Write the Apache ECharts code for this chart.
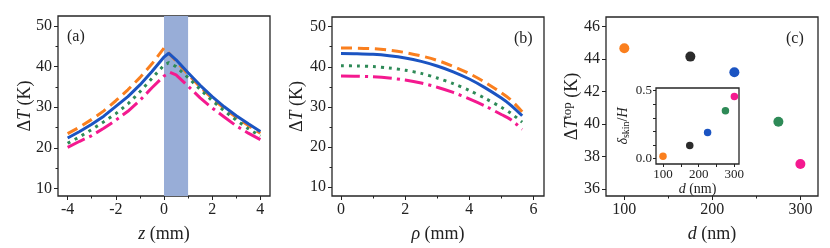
<!DOCTYPE html>
<html>
<head>
<meta charset="utf-8">
<script src="https://cdn.jsdelivr.net/npm/echarts@6/dist/echarts.min.js"></script>
<style>html,body{margin:0;padding:0;background:#fff}#c{width:830px;height:248px}</style>
</head>
<body>
<div id="c"></div>
<script>
// ---------- Panel (a): ΔT vs z ----------
const zOrange = [-4,-3.5,-3,-2.5,-2,-1.5,-1,-0.5,0,0.5,1,1.5,2,2.5,3,3.5,4];
const aOrange = [23.5,25.1,27.0,29.1,31.6,34.3,37.3,40.7,44.6,41.4,38.1,35.0,32.2,29.7,27.5,25.5,23.6];
const zBlue = [-4,-3.5,-3,-2.5,-2,-1.5,-1,-0.5,0,0.2,0.5,1,1.5,2,2.5,3,3.5,4];
const aBlue = [22.4,24.0,25.8,27.8,30.2,32.6,35.5,38.8,42.4,43.3,41.7,38.5,35.4,32.6,30.1,27.9,25.9,24.0];
const zGreen = [-4,-3.5,-3,-2.5,-2,-1.5,-1,-0.5,0,0.2,0.5,1,1.5,2,2.5,3,3.5,4];
const aGreen = [21.1,22.7,24.5,26.4,28.4,30.8,33.8,37.1,40.4,41.0,40.0,37.3,34.4,31.6,29.1,26.8,24.7,22.9];
const zPink = [-4,-3.5,-3,-2.5,-2,-1.5,-1,-0.5,0,0.25,0.5,1,1.5,2,2.5,3,3.5,4];
const aPink = [20.1,21.6,23.0,24.8,26.8,29.0,31.7,34.8,37.7,38.6,38.0,35.2,32.3,29.8,27.6,25.4,23.6,22.0];
const bandZ = [0, 1];

// ---------- Panel (b): ΔT vs rho ----------
const rho = [0,0.5,1,1.5,2,2.5,3,3.5,4,4.5,5,5.3,5.65];
const bOrange = [44.7,44.65,44.5,44.15,43.55,42.7,41.6,40.1,38.3,36.1,33.5,31.7,28.8];
const bBlue = [43.3,43.25,43.1,42.75,42.2,41.35,40.2,38.75,36.95,34.75,32.2,30.4,27.8];
const bGreen = [40.25,40.2,40.05,39.7,39.15,38.35,37.2,35.8,34.1,32.1,29.9,28.4,26.2];
const bPink = [37.7,37.65,37.5,37.2,36.7,35.95,34.9,33.6,32.0,30.2,28.1,26.8,24.4];

// ---------- Panel (c): ΔT_top vs d, inset δskin/H vs d ----------
const dVals = [100,175,225,275,300];
const tTop = [44.67,44.16,43.19,40.14,37.54];
const skin = [0.017,0.096,0.193,0.353,0.458];

// tick labels
const ticksAx = [-4,-2,0,2,4], minorAx = [-3,-1,1,3];
const ticksAy = [10,20,30,40,50], minorAy = [15,25,35,45];
const ticksBx = [0,2,4,6], minorBx = [1,3,5];
const ticksCx = [100,200,300], minorCx = [150,250];
const ticksCy = [36,38,40,42,44,46];
const ticksIx = [100,200,300], minorIx = [150,250];
const ticksIy = [0,0.5], minorIy = [0.1,0.2,0.3,0.4];

const C = {orange:'#fa7f1e', blue:'#1b54c2', green:'#2e8a57', pink:'#f4198f', black:'#2b2b2b'};
const pointColors = [C.orange, C.black, C.blue, C.green, C.pink];
const FONT = 'Liberation Serif';
const INK = '#222';

function zip(xs, ys){ return xs.map((x,i)=>[x, ys[i]]); }

function axisPair(kind, grid, min, max, major, minor, opts){
  opts = opts || {};
  const fs = opts.fs || 16;
  const z = opts.z || 2;
  const main = {
    type:'value', gridIndex:grid, min:min, max:max, z:z,
    position: kind==='x' ? 'bottom' : 'left',
    splitLine:{show:false},
    axisLine:{show:false, onZero:false},
    axisTick:{show:true, inside:false, length:opts.tl||4, customValues:major, lineStyle:{color:INK,width:1}},
    axisLabel:{show:true, customValues:major, margin:opts.margin||6, color:INK,
      fontFamily:FONT, fontSize:fs, formatter:opts.fmt||(v=>String(v))},
    name: opts.name || '', nameLocation:'middle', nameGap: opts.nameGap||30,
    nameMoveOverlap:false,
    nameTextStyle: opts.nameStyle || {}
  };
  const sec = {
    type:'value', gridIndex:grid, min:min, max:max, z:z,
    position: kind==='x' ? 'bottom' : 'left',
    splitLine:{show:false}, axisLine:{show:false, onZero:false}, axisLabel:{show:false},
    axisTick:{show:true, inside:false, length:opts.ml||2.5, customValues:minor, lineStyle:{color:INK,width:1}}
  };
  return [main, sec];
}

const rich = {
  n:{fontFamily:FONT, fontSize:18, color:INK},
  i:{fontFamily:FONT, fontSize:18, fontStyle:'italic', color:INK},
  sup:{fontFamily:FONT, fontSize:13, color:INK, verticalAlign:'top', padding:[0,0,10,0]},
  sn:{fontFamily:FONT, fontSize:14, color:INK},
  si:{fontFamily:FONT, fontSize:14, fontStyle:'italic', color:INK},
  sub:{fontFamily:FONT, fontSize:10, color:INK, verticalAlign:'bottom', padding:[6,0,0,0]}
};
const nameStyle = {rich:rich};

const [axA, axA2] = axisPair('x',0,-4.4,4.4,ticksAx,minorAx,{name:'{i|z}{n| (mm)}', nameGap:29, nameStyle});
const [ayA, ayA2] = axisPair('y',0,8.1,52.5,ticksAy,minorAy,{name:'{n|Δ}{i|T}{n| (K)}', nameGap:24, nameStyle});
const [axB, axB2] = axisPair('x',1,-0.28,6.33,ticksBx,minorBx,{name:'{i|ρ}{n| (mm)}', nameGap:29, nameStyle});
const [ayB, ayB2] = axisPair('y',1,7.8,52.4,ticksAy,minorAy,{name:'{n|Δ}{i|T}{n| (K)}', nameGap:26, nameStyle});
const [axC, axC2] = axisPair('x',2,79.2,320,ticksCx,minorCx,{name:'{i|d}{n| (nm)}', nameGap:29, nameStyle});
const [ayC, ayC2] = axisPair('y',2,35.57,46.6,ticksCy,[],{name:'{n|Δ}{i|T}{sup|top}{n| (K)}', nameGap:22, nameStyle});
const [axI, axI2] = axisPair('x',3,80.4,313,ticksIx,minorIx,{z:10, fs:13, tl:3, ml:3, margin:4, name:'{si|d}{sn| (nm)}', nameGap:18, nameStyle});
const [ayI, ayI2] = axisPair('y',3,-0.04,0.52,ticksIy,minorIy,{z:10, fs:13, tl:3, ml:3, margin:4, fmt:v=>v.toFixed(1), name:'{si|δ}{sub|skin}{sn|/}{si|H}', nameGap:25, nameStyle});

const xAxes = [axA, axB, axC, axI, axA2, axB2, axC2, axI2];
const yAxes = [ayA, ayB, ayC, ayI, ayA2, ayB2, ayC2, ayI2];

function line(xi, yi, data, color, type, extra){
  return Object.assign({
    type:'line', xAxisIndex:xi, yAxisIndex:yi, data:data, showSymbol:false, symbol:'none',
    lineStyle:{color:color, width:3, type:type, cap:'butt'}, silent:true, animation:false
  }, extra||{});
}

const DASH = [11,6], DOT = [3,5], DASHDOT = [19,5,3,5];

const series = [
  line(0,0,[],C.orange,'solid',{markArea:{silent:true, itemStyle:{color:'#98add7'},
    data:[[{xAxis:bandZ[0]},{xAxis:bandZ[1]}]]}}),
  line(0,0,zip(zOrange,aOrange),C.orange,DASH),
  line(0,0,zip(zBlue,aBlue),C.blue,'solid'),
  line(0,0,zip(zGreen,aGreen),C.green,DOT),
  line(0,0,zip(zPink,aPink),C.pink,DASHDOT),
  line(1,1,zip(rho,bOrange),C.orange,DASH,{smooth:0.3}),
  line(1,1,zip(rho,bBlue),C.blue,'solid',{smooth:0.3}),
  line(1,1,zip(rho,bGreen),C.green,DOT,{smooth:0.3}),
  line(1,1,zip(rho,bPink),C.pink,DASHDOT,{smooth:0.3}),
  {type:'scatter', xAxisIndex:2, yAxisIndex:2, data:zip(dVals,tTop), symbolSize:10, animation:false, silent:true,
    itemStyle:{color:p=>pointColors[p.dataIndex], opacity:1}},
  {type:'scatter', xAxisIndex:3, yAxisIndex:3, data:zip(dVals,skin), symbolSize:7.5, animation:false, silent:true, z:12,
    itemStyle:{color:p=>pointColors[p.dataIndex], opacity:1}}
];

const gridStyle = {show:true, borderColor:'#262626', borderWidth:1.3, backgroundColor:'#fff'};
const option = {
  backgroundColor:'#fff',
  animation:false,
  grid:[
    Object.assign({left:58, top:16, width:212, height:187}, gridStyle),
    Object.assign({left:332, top:17, width:212, height:186}, gridStyle),
    Object.assign({left:606, top:17, width:212, height:185}, gridStyle),
    Object.assign({left:656, top:88, width:83, height:76, z:5}, gridStyle)
  ],
  xAxis: xAxes,
  yAxis: yAxes,
  series: series,
  graphic:[
    {type:'text', left:67, top:29, style:{text:'(a)', font:'16px "Liberation Serif"', fill:INK}},
    {type:'text', left:514, top:31, style:{text:'(b)', font:'16px "Liberation Serif"', fill:INK}},
    {type:'text', left:786, top:31, style:{text:'(c)', font:'16px "Liberation Serif"', fill:INK}}
  ]
};
const chart = echarts.init(document.getElementById('c'), null, {renderer:'canvas'});
chart.setOption(option);
</script>
</body>
</html>
